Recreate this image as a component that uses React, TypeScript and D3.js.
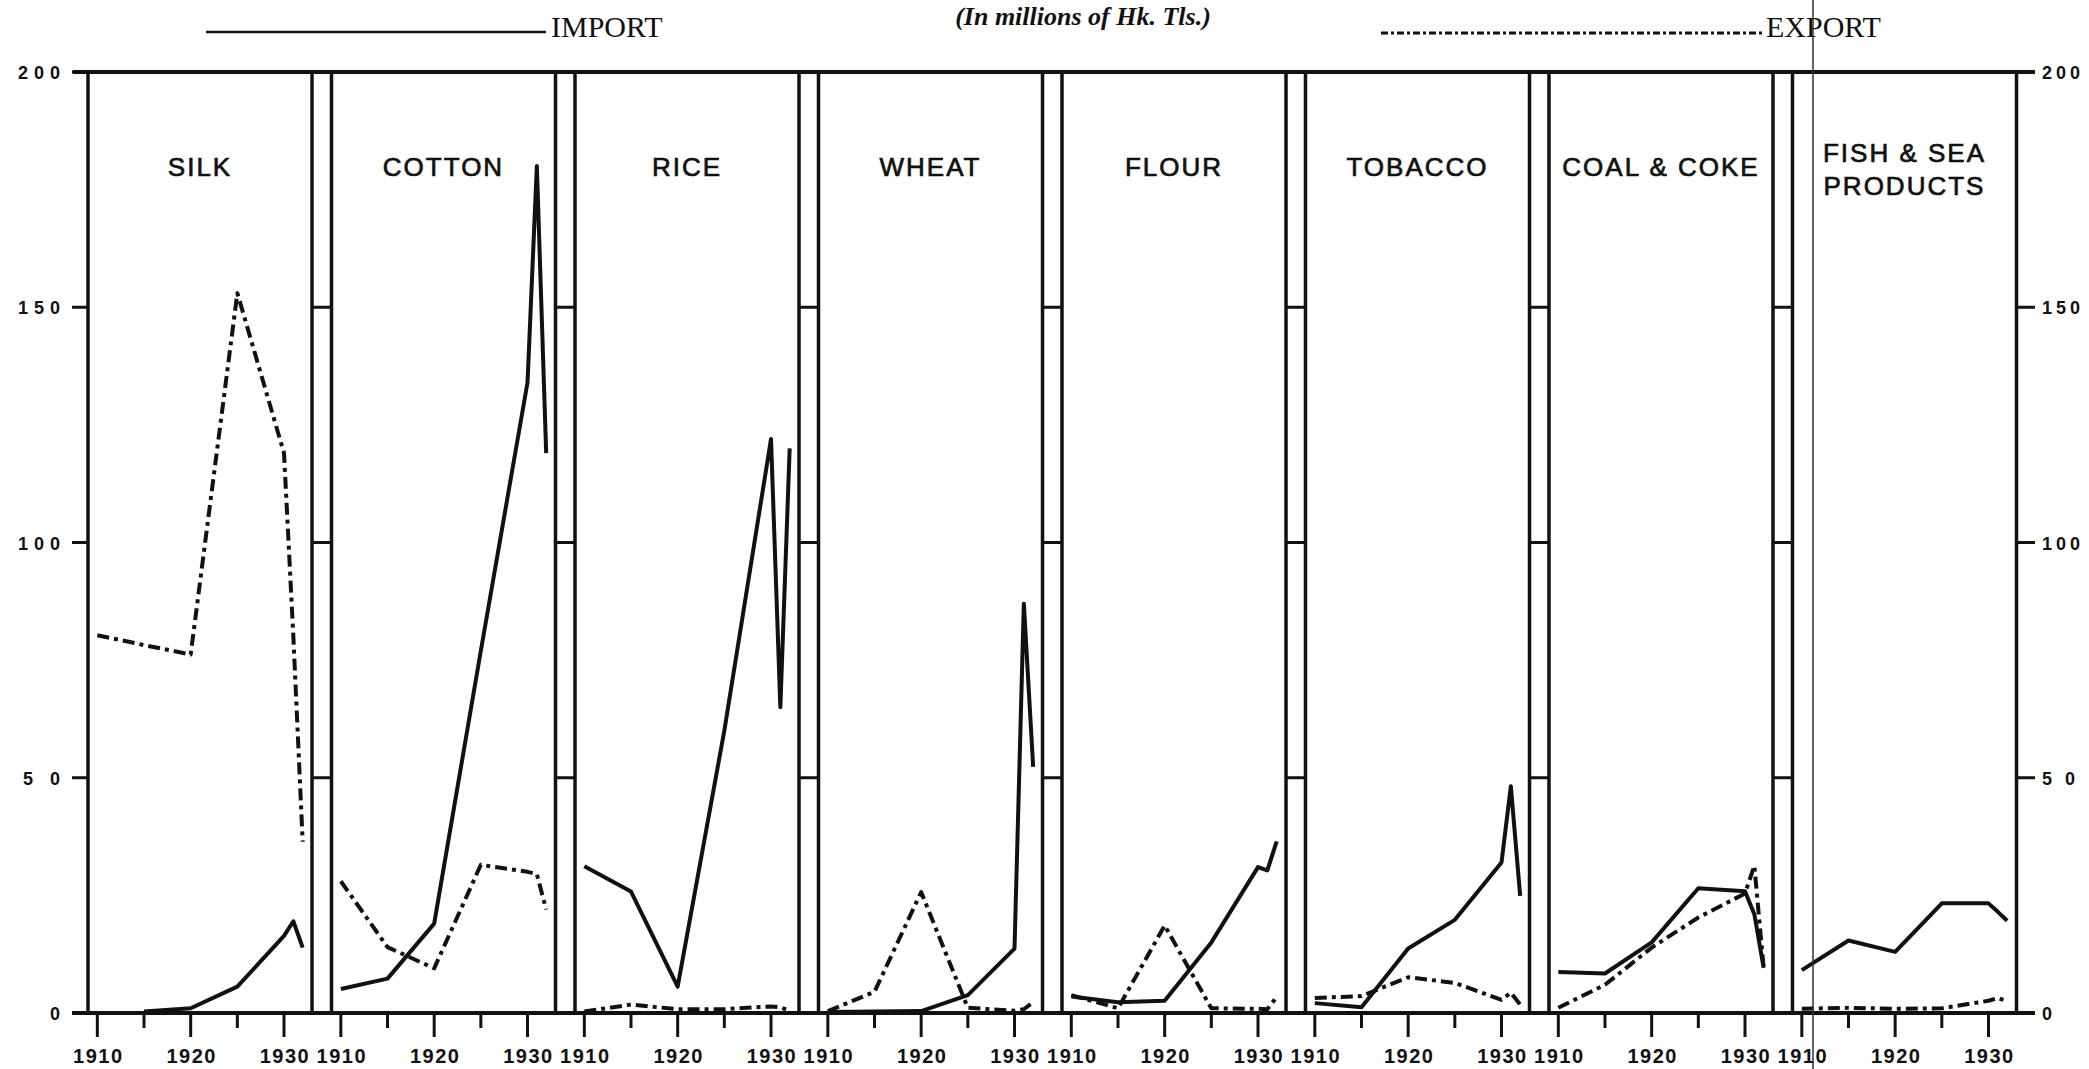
import React from "react";
import * as d3 from "d3";

// years plotted in every panel (the last three are the yearly points 1930-32)
const years = [1910, 1915, 1920, 1925, 1930, 1931, 1932];

const commodities = ["SILK", "COTTON", "RICE", "WHEAT", "FLOUR", "TOBACCO", "COAL & COKE", "FISH & SEA PRODUCTS"];
const titleLines = [["SILK"], ["COTTON"], ["RICE"], ["WHEAT"], ["FLOUR"], ["TOBACCO"], ["COAL & COKE"], ["FISH & SEA", "PRODUCTS"]];

// values in millions of Hk. Tls. (null = not drawn)
const silkImport = [null, 0.3, 1, 5.6, 16.4, 19.5, 13.9];
const silkExport = [80.3, 78.2, 76.2, 153, 119, 80, 36.4];
const cottonImport = [5.1, 7.3, 19, 77, 134, 180, 119];
const cottonExport = [28, 14, 9.5, 31.5, 30, 29.5, 22];
const riceImport = [31.2, 25.8, 5.6, 60, 122, 65, 120];
const riceExport = [0.3, 1.8, 0.8, 0.8, 1.4, 1.2, 0.5];
const wheatImport = [0.2, 0.3, 0.4, 3.8, 13.7, 87, 52.3];
const wheatExport = [0.4, 4.5, 25.7, 1.1, 0.5, 0.8, 2.3];
const flourImport = [3.5, 2.3, 2.6, 15, 31, 30.3, 36.5];
const flourExport = [3.8, 1, 18.6, 1, 0.9, 0.8, 3.4];
const tobaccoImport = [2.1, 1.2, 13.7, 19.8, 32, 48.2, 24.9];
const tobaccoExport = [3.2, 3.6, 7.6, 6.4, 2.8, 4.3, 1.8];
const coalImport = [8.7, 8.4, 15, 26.5, 25.9, 21, 9.6];
const coalExport = [1.1, 6, 13.9, 20.3, 25.4, 31.3, 9.6];
const fishImport = [9.1, 15.4, 13, 23.3, 23.3, 21.5, 19.6];
const fishExport = [0.9, 1.1, 0.9, 1.0, 2.6, 3.2, 2.5];

const importSeries = [silkImport, cottonImport, riceImport, wheatImport, flourImport, tobaccoImport, coalImport, fishImport];
const exportSeries = [silkExport, cottonExport, riceExport, wheatExport, flourExport, tobaccoExport, coalExport, fishExport];

const yTicks = [0, 50, 100, 150, 200];
const yTickLabels = ["0", "5 0", "100", "150", "200"];
const xTicks = [1910, 1915, 1920, 1925, 1930];
const xLabels = [1910, 1920, 1930];

const W = 2089;
const H = 1069;
const EXPORT_DASH = "12 5 4 5";

export default function App() {
  const y = d3.scaleLinear().domain([0, 200]).range([1013, 72]);
  const band = d3.scaleBand<string>().domain(commodities).range([88, 2016.5]).paddingInner(0.08);
  const bw = band.bandwidth();
  const left = band(commodities[0])!;
  const right = band(commodities[commodities.length - 1])! + bw;

  const panels = commodities.map((c, i) => {
    const x0 = band(c)!;
    const x = d3.scaleLinear().domain([1909, 1933]).range([x0, x0 + bw]);
    const line = d3
      .line<number | null>()
      .defined((d) => d != null)
      .x((_, j) => x(years[j]))
      .y((d) => y(d as number));
    return { c, i, x0, x, line };
  });

  const font = "'Liberation Sans', Arial, sans-serif";
  const serif = "'Liberation Serif', 'Times New Roman', serif";

  return (
    <svg width={W} height={H} style={{ position: "absolute", left: 0, top: 0, background: "#fff" }}>
      <rect width={W} height={H} fill="#fff" />

      {/* header */}
      <line x1={206} x2={546} y1={32} y2={32} stroke="#111" strokeWidth={2.5} />
      <text x={551} y={37} fontFamily={serif} fontSize={30} fill="#111">IMPORT</text>
      <text x={1083} y={25} textAnchor="middle" fontFamily={serif} fontSize={26} fontStyle="italic" fontWeight="bold" fill="#111">
        (In millions of Hk. Tls.)
      </text>
      <line x1={1381} x2={1762} y1={33} y2={33} stroke="#111" strokeWidth={3} strokeDasharray="7 3 3 3" />
      <text x={1766} y={37} fontFamily={serif} fontSize={30} fill="#111">EXPORT</text>

      {/* frame */}
      <line x1={73} x2={2035} y1={y(200)} y2={y(200)} stroke="#111" strokeWidth={4} />
      <line x1={72} x2={2035} y1={y(0)} y2={y(0)} stroke="#111" strokeWidth={4} />

      {panels.map((p) => (
        <g key={p.c}>
          <line x1={p.x0} x2={p.x0} y1={y(200)} y2={y(0)} stroke="#111" strokeWidth={3.5} />
          <line x1={p.x0 + bw} x2={p.x0 + bw} y1={y(200)} y2={y(0)} stroke="#111" strokeWidth={3.5} />
          {xTicks.map((t) => (
            <line
              key={t}
              x1={p.x(t)}
              x2={p.x(t)}
              y1={y(0)}
              y2={y(0) + (t % 10 === 0 ? 24 : 15)}
              stroke="#111"
              strokeWidth={3}
            />
          ))}
          {xLabels.map((t) => (
            <text
              key={t}
              x={p.x(t) + 1}
              y={1063}
              textAnchor="middle"
              fontFamily={font}
              fontWeight="bold"
              fontSize={20}
              letterSpacing={1.5}
              fill="#111"
            >
              {t}
            </text>
          ))}
          {titleLines[p.i].map((t, k) => (
            <text
              key={t}
              x={p.x0 + bw / 2}
              y={titleLines[p.i].length > 1 ? 162 + k * 33 : 176}
              textAnchor="middle"
              fontFamily={font}
              fontSize={26}
              letterSpacing={2}
              fill="#111"
              stroke="#111"
              strokeWidth={0.7}
            >
              {t}
            </text>
          ))}
          <path d={p.line(importSeries[p.i]) || ""} fill="none" stroke="#111" strokeWidth={4} strokeLinejoin="round" />
          <path
            d={p.line(exportSeries[p.i]) || ""}
            fill="none"
            stroke="#111"
            strokeWidth={4}
            strokeDasharray={EXPORT_DASH}
            strokeLinejoin="round"
          />
          {/* ticks inside the gap to the next panel */}
          {p.i < commodities.length - 1 &&
            yTicks
              .filter((v) => v > 0 && v < 200)
              .map((v) => (
                <line
                  key={v}
                  x1={p.x0 + bw}
                  x2={band(commodities[p.i + 1])!}
                  y1={y(v)}
                  y2={y(v)}
                  stroke="#111"
                  strokeWidth={3}
                />
              ))}
        </g>
      ))}

      {/* outer axes */}
      {yTicks.map((v, k) => (
        <g key={v}>
          <line x1={72} x2={left} y1={y(v)} y2={y(v)} stroke="#111" strokeWidth={3} />
          <line x1={right} x2={2035} y1={y(v)} y2={y(v)} stroke="#111" strokeWidth={3} />
          <text x={66} y={y(v) + 7} textAnchor="end" fontFamily={font} fontWeight="bold" fontSize={18} letterSpacing={6} fill="#111">
            {yTickLabels[k]}
          </text>
          <text x={2042} y={y(v) + 7} fontFamily={font} fontWeight="bold" fontSize={18} letterSpacing={4} fill="#111">
            {yTickLabels[k]}
          </text>
        </g>
      ))}

      {/* fold line of the scan */}
      <line x1={1813} x2={1813} y1={0} y2={H} stroke="#333" strokeWidth={1.5} />
    </svg>
  );
}
